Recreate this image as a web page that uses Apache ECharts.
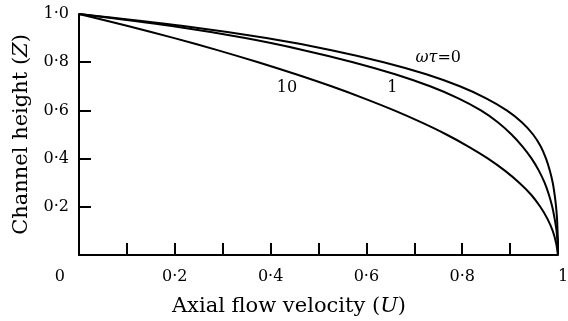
<!DOCTYPE html>
<html>
<head>
<meta charset="utf-8">
<script src="https://cdn.jsdelivr.net/npm/echarts@6/dist/echarts.min.js"></script>
<style>html,body{margin:0;padding:0;background:#fff}#c{width:568px;height:321px}</style>
</head>
<body>
<div id="c"></div>
<script>
// Channel height levels (Z) at which the axial velocity (U) is read
const zLevels = [1.0, 0.95, 0.9, 0.85, 0.8, 0.75, 0.7, 0.65, 0.6, 0.55, 0.5, 0.45, 0.4, 0.35, 0.3, 0.25, 0.2, 0.15, 0.1, 0.05, 0.0];
// Axial flow velocity U for each curve
const u_wt0  = [0, 0.218, 0.391, 0.527, 0.636, 0.725, 0.795, 0.850, 0.893, 0.925, 0.948, 0.964, 0.975, 0.983, 0.989, 0.993, 0.996, 0.998, 0.999, 1.0, 1.0];
const u_wt1  = [0, 0.194, 0.347, 0.469, 0.572, 0.660, 0.733, 0.792, 0.839, 0.875, 0.903, 0.926, 0.945, 0.960, 0.972, 0.981, 0.988, 0.993, 0.997, 0.999, 1.0];
const u_wt10 = [0, 0.102, 0.199, 0.289, 0.374, 0.453, 0.527, 0.595, 0.658, 0.715, 0.767, 0.813, 0.854, 0.889, 0.919, 0.944, 0.963, 0.978, 0.989, 0.996, 1.0];
const curveNames = ['ωτ=0', '1', '10'];
// label anchor points (U, Z) for curve labels
const labelPts = [[0.75, 0.82], [0.654, 0.693], [0.434, 0.693]];
// tick labels
const xTickLabels = [0, 0.2, 0.4, 0.6, 0.8, 1.0];
const xTickMarks = [0.1, 0.2, 0.3, 0.4, 0.5, 0.6, 0.7, 0.8, 0.9];
const yTickLabels = [0.2, 0.4, 0.6, 0.8, 1.0];
const yTickMarks = [0.2, 0.4, 0.6, 0.8];

const fmtNum = v => v === 0 ? '0' : v.toFixed(1).replace('.', '·');
const fmtX = v => v === 0 ? '{z|0}' : '{n|' + fmtNum(v) + '}';
const font = 'DejaVu Serif';
const tickFont = 16;
const toPairs = u => u.map((x, i) => [x, zLevels[i]]);

const curves = [u_wt0, u_wt1, u_wt10];
const series = curves.map((u, i) => ({
  type: 'line',
  name: curveNames[i],
  data: toPairs(u),
  smooth: 0.3,
  symbol: 'none',
  lineStyle: {color: '#000', width: 2},
  markPoint: {
    symbol: 'circle', symbolSize: 0,
    label: {
      show: true, position: 'inside', color: '#000', fontFamily: font, fontSize: 16,
      formatter: i === 0 ? '{i|ωτ}=0' : curveNames[i],
      rich: {i: {fontStyle: 'italic', fontFamily: font, fontSize: 16, color: '#000'}}
    },
    data: [{coord: labelPts[i]}]
  }
}));

const chart = echarts.init(document.getElementById('c'));
chart.setOption({
  animation: false,
  backgroundColor: '#fff',
  grid: {left: 79, right: 10, top: 14, bottom: 66, containLabel: false, outerBoundsMode: 'none'},
  xAxis: {
    type: 'value', min: 0, max: 1, interval: 0.1,
    axisLine: {lineStyle: {color: '#000', width: 2}},
    axisTick: {show: true, inside: true, length: 12, customValues: xTickMarks, lineStyle: {color: '#000', width: 2}},
    axisLabel: {customValues: xTickLabels, formatter: fmtX, color: '#000', fontFamily: font, fontSize: tickFont, margin: 14,
      alignMinLabel: 'right', alignMaxLabel: 'left', hideOverlap: false,
      rich: {
        z: {padding: [0, 14, 0, 0], fontFamily: font, fontSize: tickFont, color: '#000'},
        n: {fontFamily: font, fontSize: tickFont, color: '#000'}
      }},
    splitLine: {show: false},
    name: 'Axial flow velocity ({i|U})',
    nameLocation: 'middle', nameGap: 41,
    nameTextStyle: {color: '#000', fontFamily: font, fontSize: 21, padding: [0, 59, 0, 0],
      rich: {i: {fontStyle: 'italic', fontFamily: font, fontSize: 21, color: '#000'}}}
  },
  yAxis: {
    type: 'value', min: 0, max: 1, interval: 0.2,
    axisLine: {lineStyle: {color: '#000', width: 2}},
    axisTick: {show: true, inside: true, length: 12, customValues: yTickMarks, lineStyle: {color: '#000', width: 2}},
    axisLabel: {customValues: yTickLabels, formatter: fmtNum, color: '#000', fontFamily: font, fontSize: tickFont, margin: 10},
    splitLine: {show: false},
    name: 'Channel height ({i|Z})',
    nameLocation: 'middle', nameRotate: 90, nameGap: 47,
    nameTextStyle: {color: '#000', fontFamily: font, fontSize: 21,
      rich: {i: {fontStyle: 'italic', fontFamily: font, fontSize: 21, color: '#000'}}}
  },
  series: series
});
</script>
</body>
</html>
